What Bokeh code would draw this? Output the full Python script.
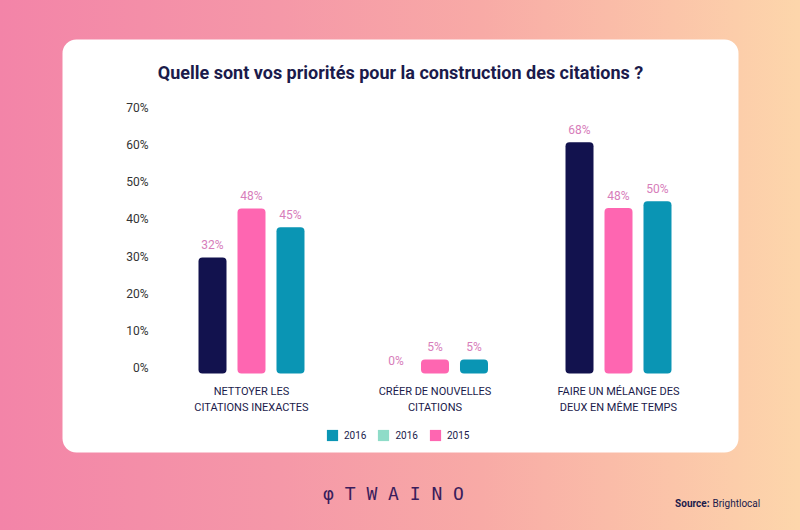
import numpy as np
from bokeh.plotting import figure
from bokeh.models import (Range1d, Label, BoxAnnotation, Legend, LegendItem,
                          FixedTicker, PrintfTickFormatter, ColumnDataSource, InlineStyleSheet)
from bokeh.transform import dodge
from bokeh.core.properties import value
from bokeh.embed import file_html
from bokeh.resources import INLINE

title_text = "Quelle sont vos priorités pour la construction des citations ?"
categories = ["NETTOYER LES\nCITATIONS INEXACTES",
              "CRÉER DE NOUVELLES\nCITATIONS",
              "FAIRE UN MÉLANGE DES\nDEUX EN MÊME TEMPS"]
series_navy = [31.3, 0.0, 62.3]
series_pink = [44.5, 3.8, 44.6]
series_teal = [39.4, 3.8, 46.4]
labels_navy = ["32%", "0%", "68%"]
labels_pink = ["48%", "5%", "48%"]
labels_teal = ["45%", "5%", "50%"]
y_ticks = [0, 10, 20, 30, 40, 50, 60, 70]
legend_labels = ["2016", "2016", "2015"]
source_label = "Source:"
source_value = "Brightlocal"
brand = "φ T W A I N O"

NAVY = "#12124e"
PINK = "#fe66b1"
TEAL = "#0a95b4"
MINT = "#8fdcc8"
TXT = "#1b1b4b"
VAL = "#d77dba"

idx = list(range(len(categories)))

p = figure(width=800, height=530,
           x_range=Range1d(-1.3678, 2.9918),
           y_range=Range1d(-42.32, 100.54),
           output_backend="svg", toolbar_location=None,
           min_border=0, min_border_left=0, min_border_right=0,
           min_border_top=0, min_border_bottom=0)
p.stylesheets = [InlineStyleSheet(css=":host { background: linear-gradient(90deg, #f384a8 0%, #f598a8 35%, #f8aaa6 60%, #fdd6ab 100%); }")]
p.border_fill_alpha = 0
p.background_fill_alpha = 0
p.outline_line_color = None
p.xgrid.grid_line_color = None
p.ygrid.grid_line_color = None

card = BoxAnnotation(left=62, right=738, top=39, bottom=452,
                     left_units="canvas", right_units="canvas",
                     top_units="canvas", bottom_units="canvas",
                     fill_color="white", fill_alpha=1, line_color=None,
                     border_radius=14, level="underlay")
p.add_layout(card)

offsets = [-0.2125, 0.0, 0.2125]
colors = [NAVY, PINK, TEAL]
vals = [series_navy, series_pink, series_teal]
labs = [labels_navy, labels_pink, labels_teal]
for off, col, v, l in zip(offsets, colors, vals, labs):
    src = ColumnDataSource(dict(x=idx, top=v, lab=l))
    p.vbar(x=dodge("x", off), top="top", width=0.1526, source=src,
           fill_color=col, line_color=None, border_radius=4)
    p.text(x=dodge("x", off), y="top", text="lab", source=src,
           text_align="center", text_baseline="bottom", y_offset=-5,
           text_font=value("Roboto"), text_font_size="12px", text_color=VAL)

p.yaxis.fixed_location = -0.5013
p.yaxis.ticker = FixedTicker(ticks=y_ticks)
p.yaxis.formatter = PrintfTickFormatter(format="%d%%\n")
p.yaxis.axis_line_color = None
p.yaxis.major_tick_line_color = None
p.yaxis.minor_tick_line_color = None
p.yaxis.major_label_standoff = 5
p.yaxis.major_label_text_font = "Roboto"
p.yaxis.major_label_text_font_size = "12px"
p.yaxis.major_label_text_line_height = 0.8
p.yaxis.major_label_text_color = "#333333"

p.xaxis.fixed_location = 0
p.xaxis.ticker = FixedTicker(ticks=idx)
p.xaxis.major_label_overrides = {i: c for i, c in zip(idx, categories)}
p.xaxis.axis_line_color = None
p.xaxis.major_tick_line_color = None
p.xaxis.minor_tick_line_color = None
p.xaxis.major_label_standoff = 6
p.xaxis.major_label_text_font = "Roboto"
p.xaxis.major_label_text_font_size = "11px"
p.xaxis.major_label_text_color = TXT

dummies = []
for col in [TEAL, MINT, PINK]:
    r = p.vbar(x=np.array([np.nan]), top=np.array([np.nan]), width=0.1,
               fill_color=col, line_color=None, border_radius=3)
    dummies.append(r)
legend = Legend(items=[LegendItem(label=lab, renderers=[r]) for lab, r in zip(legend_labels, dummies)],
                orientation="horizontal", location=(325, 88),
                glyph_width=14, glyph_height=14, label_standoff=5, spacing=10,
                padding=0, margin=0, border_line_color=None, background_fill_alpha=0,
                label_text_font="Roboto", label_text_font_size="10px", label_text_color=TXT)
p.add_layout(legend)

p.add_layout(Label(x=400, y=72, x_units="canvas", y_units="canvas", text=title_text,
                   text_align="center", text_baseline="middle", text_font="Roboto",
                   text_font_style="bold", text_font_size="18px", text_color=TXT))
p.add_layout(Label(x=393, y=493, x_units="canvas", y_units="canvas", text=brand,
                   text_align="center", text_baseline="middle", text_font="DejaVu Sans Mono",
                   text_font_size="18px", text_color="#3a1d5c"))
p.add_layout(Label(x=709, y=503, x_units="canvas", y_units="canvas", text=source_label,
                   text_align="right", text_baseline="middle", text_font="Roboto",
                   text_font_style="bold", text_font_size="10px", text_color=TXT))
p.add_layout(Label(x=712, y=503, x_units="canvas", y_units="canvas", text=source_value,
                   text_align="left", text_baseline="middle", text_font="Roboto",
                   text_font_size="10px", text_color=TXT))

open("out.html", "w").write(file_html(p, INLINE))
